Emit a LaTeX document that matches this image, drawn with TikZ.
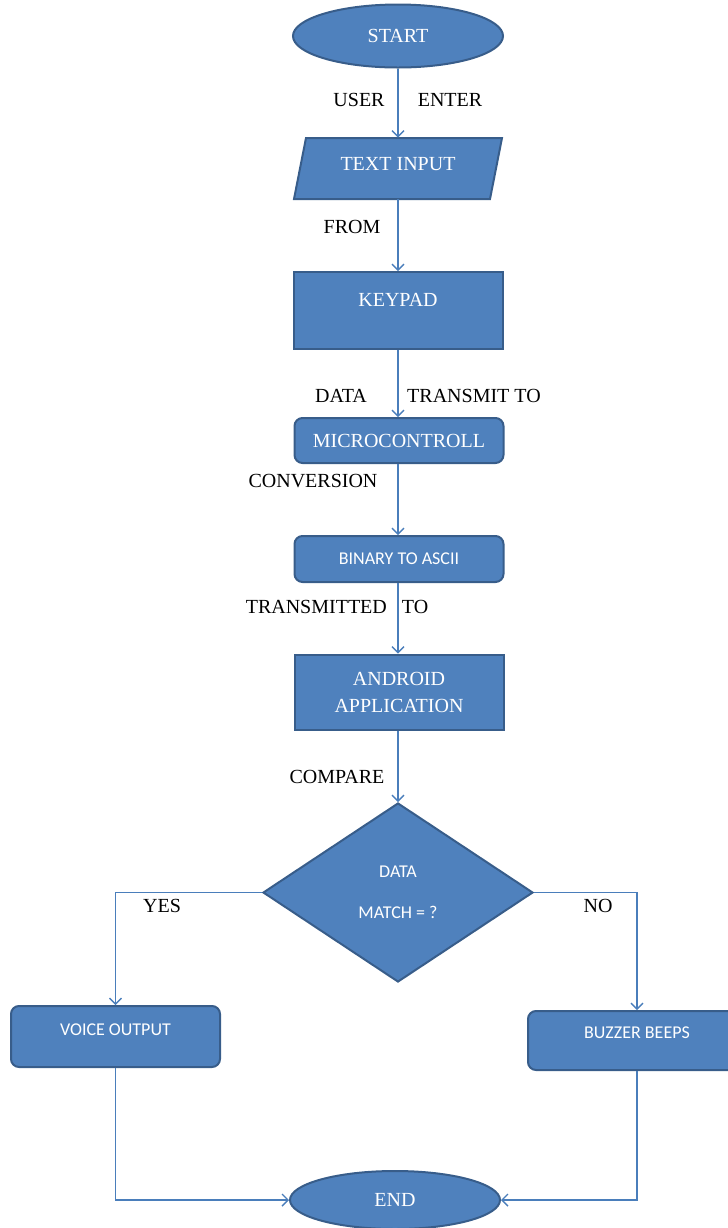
\documentclass[tikz,border=0pt]{standalone}
\usepackage{fontspec}
\setmainfont{Liberation Serif}
\newfontfamily\calib{Carlito}
\usetikzlibrary{shapes.geometric,arrows.meta}
\definecolor{boxblue}{HTML}{4F81BD}
\definecolor{boxedge}{HTML}{385D8A}
\definecolor{lineblue}{HTML}{4A7EBB}
\begin{document}
\begin{tikzpicture}[x=.5pt,y=-.5pt,
  box/.style={draw=boxedge,fill=boxblue,line width=1pt,text=white,inner sep=0pt,
    font=\fontsize{10}{13.5}\selectfont,minimum width=104.5pt},
  rbox/.style={box,rounded corners=4pt},
  sbox/.style={rbox,font=\calib\fontsize{9}{11}\selectfont},
  lab/.style={inner sep=0pt,font=\fontsize{10}{12}\selectfont},
  arr/.style={draw=lineblue,line width=.7pt,-{Straight Barb[length=3pt,width=6pt]}}]
\clip (0,0) rectangle (728,1228);
\node[box,ellipse,minimum width=105pt,minimum height=31.5pt] (start) at (398,36) {START};
\draw[draw=boxedge,fill=boxblue,line width=1pt] (306,138)--(502,138)--(490,199)--(294,199)--cycle;
\node[lab,text=white,minimum height=30.5pt,text depth=4.5pt] (input) at (398,168.5) {TEXT INPUT};
\node[box,minimum height=38.5pt,text depth=10.5pt] (keypad) at (398,310.5) {KEYPAD};
\node[rbox,minimum height=22.5pt] (micro) at (399,440.5) {MICROCONTROLL};
\node[sbox,minimum height=23pt] (binary) at (399,559) {BINARY TO ASCII};
\node[box,minimum height=37.5pt,align=center] (android) at (399,692) {ANDROID\\APPLICATION};
\node[sbox,diamond,rounded corners=0pt,minimum width=135pt,minimum height=89.5pt,
  align=center,font=\calib\fontsize{9}{20.5}\selectfont] (match) at (398,892.5) {DATA\\MATCH = ?};
\node[sbox,minimum height=30.5pt,text depth=6.5pt] (voice) at (115.5,1036.5) {VOICE OUTPUT};
\node[sbox,minimum width=109pt,minimum height=29.5pt,text depth=7.5pt] (buzzer) at (637,1040.5) {BUZZER BEEPS};
\node[box,ellipse,minimum width=105pt,minimum height=29pt] (end) at (395,1200) {END};
% connectors
\draw[arr] (start.south) -- (input.north);
\draw[arr] (input.south) -- (keypad.north);
\draw[arr] (keypad.south) -- (micro.north -| keypad.south);
\draw[arr] (micro.south -| keypad.south) -- (binary.north -| keypad.south);
\draw[arr] (binary.south -| keypad.south) -- (android.north -| keypad.south);
\draw[arr] (android.south -| match.north) -- (match.north);
\draw[arr] (match.west) -| (voice.north);
\draw[arr] (match.east) -| (buzzer.north);
\draw[arr] (voice.south) |- (end.west);
\draw[arr] (buzzer.south) |- (end.east);
% labels
\node[lab] (user) at (359,100) {USER};
\node[lab] (enter) at (450,100) {ENTER};
\node[lab] (from) at (352,227) {FROM};
\node[lab] (data) at (341,396) {DATA};
\node[lab] (transmit) at (474,396) {TRANSMIT TO};
\node[lab] (conv) at (313,481) {CONVERSION};
\node[lab] (transmitted) at (337,607) {TRANSMITTED\ \ \ TO};
\node[lab] (compare) at (337,777) {COMPARE};
\node[lab] (yes) at (162,906) {YES};
\node[lab] (no) at (598,906) {NO};
\end{tikzpicture}
\end{document}
